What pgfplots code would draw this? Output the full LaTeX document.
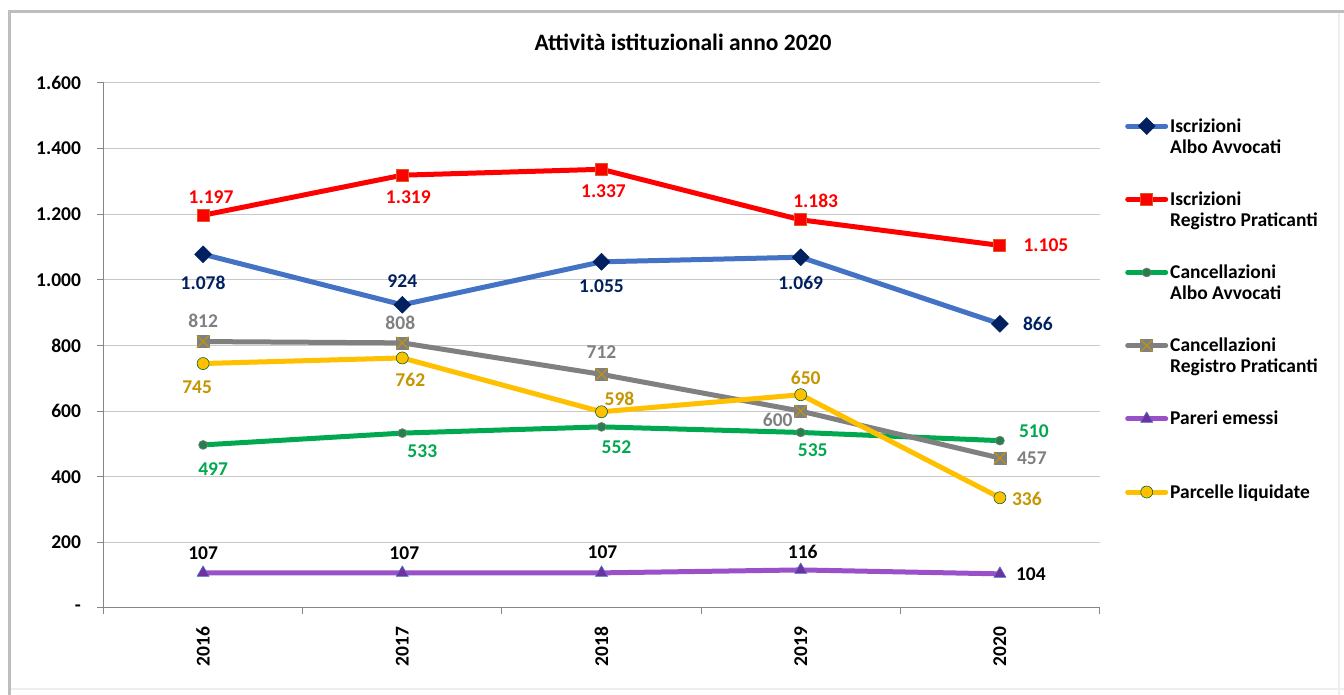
\documentclass[border=0pt]{standalone}
\usepackage{pgfplots}
\pgfplotsset{compat=1.18}
\usepackage{pgfplotstable}
\usepackage{fontspec}
\setmainfont{Carlito}

\definecolor{cblue}{RGB}{68,114,196}
\definecolor{cnavy}{RGB}{0,32,96}
\definecolor{cred}{RGB}{255,0,0}
\definecolor{credb}{RGB}{220,90,30}
\definecolor{cgreen}{RGB}{0,168,80}
\definecolor{cgreenm}{RGB}{38,128,76}
\definecolor{cgray}{RGB}{128,128,128}
\definecolor{cpurple}{RGB}{153,80,200}
\definecolor{cpurplem}{RGB}{112,48,160}
\definecolor{cyellow}{RGB}{255,192,0}
\definecolor{cgold}{RGB}{197,150,0}
\definecolor{cgridc}{RGB}{200,200,200}
\definecolor{caxis}{RGB}{134,134,134}
\definecolor{cframe}{RGB}{190,190,190}
\definecolor{cframel}{RGB}{238,238,238}

\newcommand\lblfont{\fontsize{19.5}{21}\selectfont\bfseries}
\newcommand\titfont{\fontsize{23.5}{25}\selectfont\bfseries}
\newcommand\legtext[1]{\parbox[t]{7cm}{#1}}

\pgfdeclareplotmark{sqx}{%
  \pgfpathrectangle{\pgfqpoint{-\pgfplotmarksize}{-\pgfplotmarksize}}{\pgfqpoint{2\pgfplotmarksize}{2\pgfplotmarksize}}%
  \pgfusepathqfillstroke
  \pgfscope
  \pgfsetstrokecolor{cgold}\pgfsetlinewidth{1pt}%
  \pgfpathmoveto{\pgfqpoint{-\pgfplotmarksize}{-\pgfplotmarksize}}%
  \pgfpathlineto{\pgfqpoint{\pgfplotmarksize}{\pgfplotmarksize}}%
  \pgfpathmoveto{\pgfqpoint{-\pgfplotmarksize}{\pgfplotmarksize}}%
  \pgfpathlineto{\pgfqpoint{\pgfplotmarksize}{-\pgfplotmarksize}}%
  \pgfusepathqstroke
  \endpgfscope
}

\pgfplotstableread[row sep=\\]{
x y dx dy\\
0 1078 0 -29\\
1 924 0 24\\
2 1055 0 -24\\
3 1069 0 -26\\
4 866 38 0\\
}\tblue
\pgfplotstableread[row sep=\\]{
x y dx dy\\
0 1197 8 18\\
1 1319 6 -22\\
2 1337 2 -22\\
3 1183 15 19\\
4 1105 46 0\\
}\tred
\pgfplotstableread[row sep=\\]{
x y dx dy\\
0 497 10 -24\\
1 533 20 -18\\
2 552 15 -20\\
3 535 12 -18\\
4 510 34 9\\
}\tgreen
\pgfplotstableread[row sep=\\]{
x y dx dy\\
0 812 0 21\\
1 808 -2 20\\
2 712 0 22\\
3 600 -23 -9\\
4 457 32 0\\
}\tgray
\pgfplotstableread[row sep=\\]{
x y dx dy\\
0 107 0 20\\
1 107 2 20\\
2 107 1 21\\
3 116 2 18\\
4 104 31 0\\
}\tpurple
\pgfplotstableread[row sep=\\]{
x y dx dy\\
0 745 -6 -24\\
1 762 8 -22\\
2 598 18 13\\
3 650 5 17\\
4 336 27 -1\\
}\tyellow

\pgfkeys{/pgf/number format/.cd,1000 sep={.},assume math mode=true}

\pgfplotsset{
  lbl/.style={
    nodes near coords,
    visualization depends on={\thisrow{dx}\as\dx},
    visualization depends on={\thisrow{dy}\as\dy},
    every node near coord/.append style={anchor=center, xshift=\dx pt, yshift=\dy pt, font=\lblfont, text=#1, inner sep=0pt},
  },
  serie/.style={line width=5pt, line cap=round, line join=round},
}

\begin{document}
\begin{tikzpicture}
\path[use as bounding box, fill=white] (0,0) rectangle (1344pt,695pt);
\draw[cframel, line width=2pt] (1339pt,0pt) -- (1339pt,683pt);
\draw[cframel, line width=2pt] (9.5pt,6pt) -- (1344pt,6pt);
\draw[cframe, line width=3pt] (9.5pt,0pt) -- (9.5pt,683pt) -- (1344pt,683pt);
\begin{axis}[
  at={(103.5pt,87pt)}, anchor=south west,
  scale only axis, width=996pt, height=525pt,
  xmin=-0.5, xmax=4.5, ymin=0, ymax=1600,
  axis x line*=bottom, axis y line*=left,
  axis line style={draw=caxis, line width=1pt},
  ytick={0,200,...,1600},
  yticklabels={-,200,400,600,800,1.000,1.200,1.400,1.600},
  yticklabel style={font=\lblfont},
  yticklabel shift=13pt,
  ymajorgrids, grid style={draw=cgridc, line width=1pt},
  xtick={-0.5,0.5,1.5,2.5,3.5,4.5}, xticklabels={},
  extra x ticks={0,1,2,3,4},
  extra x tick labels={2016,2017,2018,2019,2020},
  extra x tick style={tick style={draw=none}, grid=none},
  xticklabel style={rotate=90, anchor=east, font=\lblfont},
  xticklabel shift=9pt,
  tick align=outside, major tick length=6pt,
  tick style={draw=caxis, line width=1pt},
  title={Attività istituzionali anno 2020},
  title style={font=\titfont, at={(axis description cs:0.5818,1.0667)}, anchor=center},
  clip=false,
  legend image code/.code={\draw[mark repeat=2,mark phase=2,#1] plot coordinates {(0pt,6pt) (19pt,6pt) (38pt,6pt)};},
  legend style={draw=none, fill=none, at={(axis description cs:1.0256,0.9367)}, anchor=north west,
    font=\lblfont, row sep=54pt, column sep=0pt, inner sep=0pt,
    cells={anchor=base west, inner ysep=0pt, inner xsep=1pt}},
]
\addplot[serie, cblue, mark=square*, mark size=6pt, mark options={fill=cnavy, draw=cnavy, rotate=45, line width=0.5pt}, lbl=cnavy] table[x=x,y=y] {\tblue};
\addlegendentry{\legtext{Iscrizioni\newline Albo Avvocati}}
\addplot[serie, cred, mark=square*, mark size=6pt, mark options={fill=cred, draw=credb, line width=1pt}, lbl=cred] table[x=x,y=y] {\tred};
\addlegendentry{\legtext{Iscrizioni\newline Registro Praticanti}}
\addplot[serie, cgreen, mark=*, mark size=4.5pt, mark options={fill=cgreenm, draw=cgray, line width=0.6pt}, lbl=cgreen] table[x=x,y=y] {\tgreen};
\addlegendentry{\legtext{Cancellazioni\newline Albo Avvocati}}
\addplot[serie, cgray, mark=sqx, mark size=6pt, mark options={fill=cgray, draw=cgray, line width=0.5pt}, lbl=cgray] table[x=x,y=y] {\tgray};
\addlegendentry{\legtext{Cancellazioni\newline Registro Praticanti}}
\addplot[serie, cpurple, mark=triangle*, mark size=7pt, mark options={fill=cpurplem, draw=cblue, line width=0.6pt}, lbl=black] table[x=x,y=y] {\tpurple};
\addlegendentry{\legtext{Pareri emessi}}
\addplot[serie, cyellow, mark=*, mark size=6pt, mark options={fill=cyellow, draw=cgreen!60!black, line width=0.6pt}, lbl=cgold] table[x=x,y=y] {\tyellow};
\addlegendentry{\legtext{Parcelle liquidate}}
\end{axis}
\end{tikzpicture}
\end{document}
